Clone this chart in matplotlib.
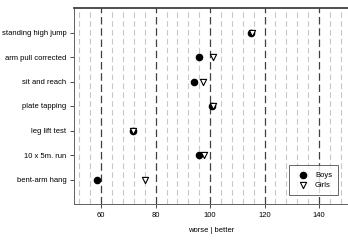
import numpy as np
import matplotlib
matplotlib.use("Agg")
import matplotlib.pyplot as plt

plt.rcParams["font.family"] = ["Liberation Sans", "DejaVu Sans"]

# ---------------------- data ----------------------
tests = ["bent-arm hang", "10 x 5m. run", "leg lift test", "plate tapping",
         "sit and reach", "arm pull corrected", "standing high jump"]
boys = [58.5, 96.0, 71.7, 100.6, 94.1, 95.8, 115.0]
girls = [75.9, 97.8, 71.7, 101.0, 97.5, 101.0, 115.5]
xticks = [60, 80, 100, 120, 140]

# ---------------------- figure ----------------------
fig = plt.figure(figsize=(3.48, 2.42), dpi=100)
ax = fig.add_axes([74 / 348, 1 - 204 / 242, 275 / 348, 196 / 242])

ypos = np.arange(1, len(tests) + 1)

# grid lines
for x in np.arange(52, 150, 4):
    if x % 20 == 0:
        continue
    ax.axvline(x, color="#c8c8c8", lw=0.8, ls=(0, (5, 3)), zorder=0)
for x in xticks:
    ax.axvline(x, color="#404040", lw=0.9, ls=(0, (6, 3)), zorder=0)

ax.scatter(boys, ypos, marker="o", s=20, color="black", zorder=3, label="Boys")
ax.scatter(girls, ypos, marker="v", s=20, facecolor="white", edgecolor="black",
           linewidths=0.8, zorder=4, label="Girls")

ax.set_xlim(50, 151)
ax.set_ylim(0, 8)
ax.set_yticks(ypos)
ax.set_yticklabels(tests, fontsize=5.5)
ax.set_xticks(xticks)
ax.set_xticklabels([str(v) for v in xticks], fontsize=5.5)
ax.tick_params(axis="both", length=3, width=0.6, color="#303030", pad=2.5)

for side in ["left", "bottom"]:
    ax.spines[side].set_color("#606060")
    ax.spines[side].set_linewidth(0.7)
ax.spines["top"].set_color("#404040")
ax.spines["top"].set_linewidth(1.3)
ax.spines["right"].set_visible(False)

ax.set_xlabel("worse | better", fontsize=5.5, labelpad=6)

leg = ax.legend(loc="lower right", fontsize=5.5, frameon=True, fancybox=False,
                edgecolor="#404040", borderpad=0.8, handletextpad=0.6,
                labelspacing=0.4, bbox_to_anchor=(0.975, 0.025))
leg.get_frame().set_linewidth(0.7)

plt.savefig("out.png", dpi=100)
